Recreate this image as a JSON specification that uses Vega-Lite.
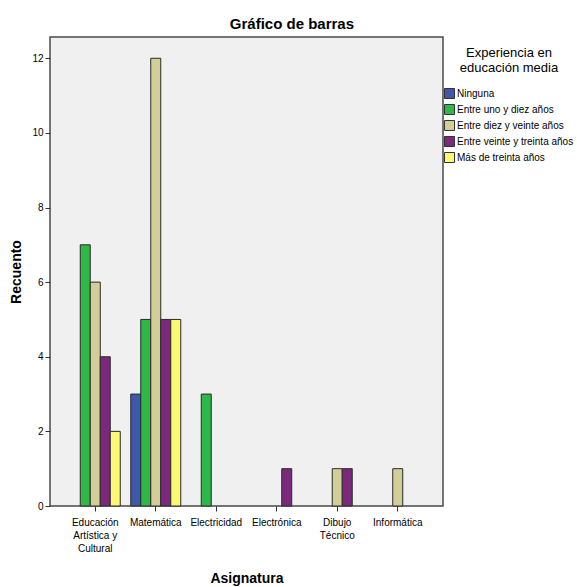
{
  "$schema": "https://vega.github.io/schema/vega-lite/v6.json",
  "width": 393,
  "height": 469,
  "autosize": {"type": "none"},
  "padding": {"left": 50, "top": 37, "right": 134, "bottom": 81},
  "background": "white",
  "title": {
    "text": "Gráfico de barras",
    "font": "Liberation Sans",
    "fontSize": 15,
    "fontWeight": "bold",
    "color": "#000000",
    "anchor": "middle",
    "frame": "bounds",
    "offset": 5
  },
  "config": {
    "font": "Liberation Sans",
    "view": {"fill": "#f0f0f0", "stroke": "#4a4a4a", "strokeWidth": 1.5}
  },
  "data": {
    "values": [
      {"Asignatura": "Educación Artística y Cultural", "Experiencia": "Entre uno y diez años", "Recuento": 7},
      {"Asignatura": "Educación Artística y Cultural", "Experiencia": "Entre diez y veinte años", "Recuento": 6},
      {"Asignatura": "Educación Artística y Cultural", "Experiencia": "Entre veinte y treinta años", "Recuento": 4},
      {"Asignatura": "Educación Artística y Cultural", "Experiencia": "Más de treinta años", "Recuento": 2},
      {"Asignatura": "Matemática", "Experiencia": "Ninguna", "Recuento": 3},
      {"Asignatura": "Matemática", "Experiencia": "Entre uno y diez años", "Recuento": 5},
      {"Asignatura": "Matemática", "Experiencia": "Entre diez y veinte años", "Recuento": 12},
      {"Asignatura": "Matemática", "Experiencia": "Entre veinte y treinta años", "Recuento": 5},
      {"Asignatura": "Matemática", "Experiencia": "Más de treinta años", "Recuento": 5},
      {"Asignatura": "Electricidad", "Experiencia": "Entre uno y diez años", "Recuento": 3},
      {"Asignatura": "Electrónica", "Experiencia": "Entre veinte y treinta años", "Recuento": 1},
      {"Asignatura": "Dibujo Técnico", "Experiencia": "Entre diez y veinte años", "Recuento": 1},
      {"Asignatura": "Dibujo Técnico", "Experiencia": "Entre veinte y treinta años", "Recuento": 1},
      {"Asignatura": "Informática", "Experiencia": "Entre diez y veinte años", "Recuento": 1}
    ]
  },
  "mark": {"type": "bar", "stroke": "#2a2a2a", "strokeWidth": 1, "opacity": 1},
  "encoding": {
    "x": {
      "field": "Asignatura",
      "type": "nominal",
      "sort": ["Educación Artística y Cultural", "Matemática", "Electricidad", "Electrónica", "Dibujo Técnico", "Informática"],
      "scale": {"paddingInner": 0, "paddingOuter": 0.248},
      "axis": {
        "title": "Asignatura",
        "titleFontSize": 14,
        "titleFontWeight": "bold",
        "titleColor": "#000000",
        "titlePadding": 18,
        "labelAngle": 0,
        "labelFontSize": 10,
        "labelColor": "#000000",
        "labelLineHeight": 13,
        "labelPadding": 6,
        "labelLimit": 200,
        "labelExpr": "datum.value == 'Educación Artística y Cultural' ? ['Educación', 'Artística y', 'Cultural'] : datum.value == 'Dibujo Técnico' ? ['Dibujo', 'Técnico'] : datum.value",
        "tickSize": 5,
        "tickColor": "#333333",
        "domain": false,
        "grid": false
      }
    },
    "xOffset": {
      "field": "Experiencia",
      "type": "nominal",
      "sort": ["Ninguna", "Entre uno y diez años", "Entre diez y veinte años", "Entre veinte y treinta años", "Más de treinta años"],
      "scale": {"paddingInner": 0, "paddingOuter": 0.525}
    },
    "y": {
      "field": "Recuento",
      "type": "quantitative",
      "scale": {"domain": [0, 12.57], "nice": false},
      "axis": {
        "title": "Recuento",
        "titleFontSize": 14,
        "titleFontWeight": "bold",
        "titleColor": "#000000",
        "titlePadding": 8,
        "values": [0, 2, 4, 6, 8, 10, 12],
        "labelFontSize": 10,
        "labelColor": "#000000",
        "labelPadding": 2,
        "tickSize": 5,
        "tickColor": "#333333",
        "domain": false,
        "grid": false
      }
    },
    "color": {
      "field": "Experiencia",
      "type": "nominal",
      "scale": {
        "domain": ["Ninguna", "Entre uno y diez años", "Entre diez y veinte años", "Entre veinte y treinta años", "Más de treinta años"],
        "range": ["#3e58ac", "#2eb848", "#d3ce97", "#7b287d", "#fbf873"]
      },
      "legend": {
        "title": ["Experiencia en", "educación media"],
        "orient": "none",
        "legendX": 394,
        "legendY": 10,
        "padding": 0,
        "titleFontSize": 13,
        "titleFontWeight": "normal",
        "titleColor": "#000000",
        "titleAlign": "center",
        "titleAnchor": "middle",
        "titleLineHeight": 15,
        "titlePadding": 13,
        "titleLimit": 200,
        "labelFontSize": 10,
        "labelColor": "#000000",
        "labelLimit": 200,
        "labelOffset": 2,
        "symbolType": "square",
        "symbolSize": 100,
        "symbolStrokeColor": "#333333",
        "symbolStrokeWidth": 1,
        "symbolOpacity": 1,
        "rowPadding": 1
      }
    }
  }
}
